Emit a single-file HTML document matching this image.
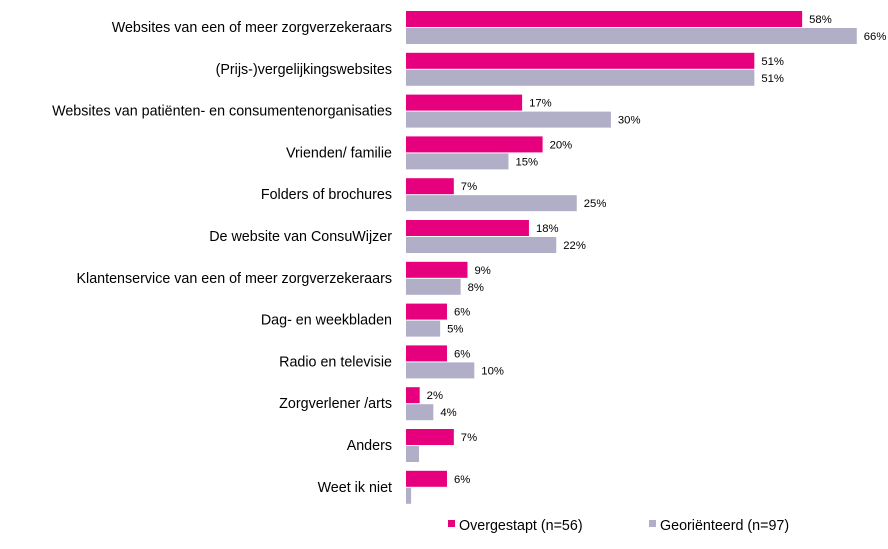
<!DOCTYPE html><html><head><style>body{margin:0;background:#fff;width:888px;height:544px;overflow:hidden;font-family:"Liberation Sans",Arial,sans-serif}</style></head><body>
<svg width="888" height="544" xmlns="http://www.w3.org/2000/svg" font-family="Liberation Sans, Arial, sans-serif">
<g id="c"></g>
<rect x="448" y="520" width="7" height="7" fill="#e6007e"/>
<text x="459" y="530" font-size="14.3">Overgestapt (n=56)</text>
<rect x="649" y="520" width="7" height="7" fill="#b1aec8"/>
<text x="660" y="530" font-size="14.3">Georiënteerd (n=97)</text>
</svg>
<script>
var d=[["Websites van een of meer zorgverzekeraars",58,66],["(Prijs-)vergelijkingswebsites",51,51],["Websites van patiënten- en consumentenorganisaties",17,30],["Vrienden/ familie",20,15],["Folders of brochures",7,25],["De website van ConsuWijzer",18,22],["Klantenservice van een of meer zorgverzekeraars",9,8],["Dag- en weekbladen",6,5],["Radio en televisie",6,10],["Zorgverlener /arts",2,4],["Anders",7,1.9,1],["Weet ik niet",6,0.75,1]];
var s="",x0=406,k=6.83;
d.forEach(function(r,i){var y=11+i*41.8;
s+='<text x="392" y="'+(y+21)+'" font-size="14.3" text-anchor="end">'+r[0]+'</text>';
var w1=r[1]*k,w2=r[2]*k;
s+='<rect x="'+x0+'" y="'+y+'" width="'+w1+'" height="16" fill="#e6007e"/>';
s+='<rect x="'+x0+'" y="'+(y+17)+'" width="'+w2+'" height="16" fill="#b1aec8"/>';
s+='<text x="'+(x0+w1+7)+'" y="'+(y+12)+'" font-size="11.3">'+r[1]+'%</text>';
if(!r[3])s+='<text x="'+(x0+w2+7)+'" y="'+(y+29)+'" font-size="11.3">'+r[2]+'%</text>';
});
document.getElementById("c").innerHTML=s;
</script>
</body></html>
